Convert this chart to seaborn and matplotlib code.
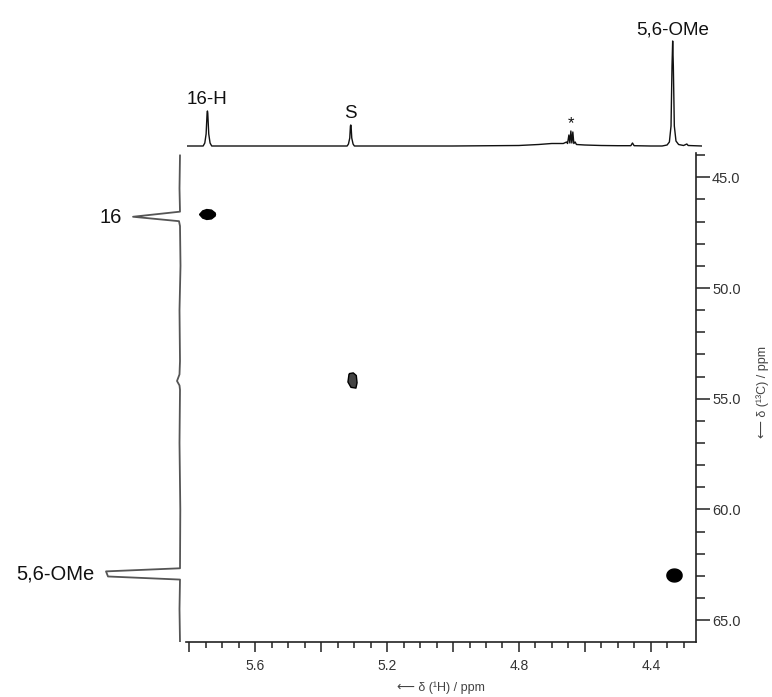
import numpy as np
import matplotlib
matplotlib.use('Agg')
import matplotlib.pyplot as plt
from matplotlib.path import Path
from matplotlib.ticker import MultipleLocator, FuncFormatter
import seaborn as sns
import pandas as pd

# 1H projection (top trace): chemical shift / relative intensity
h_ppm = [5.807, 5.758, 5.753, 5.749, 5.746, 5.745, 5.744, 5.741, 5.737, 5.732,
         5.40, 5.321, 5.317, 5.313, 5.311, 5.310, 5.309, 5.307, 5.303, 5.299,
         5.00, 4.80, 4.74, 4.70, 4.665, 4.655, 4.652, 4.648, 4.645, 4.642, 4.639,
         4.636, 4.633, 4.629, 4.625, 4.60, 4.55, 4.50, 4.460, 4.455, 4.450, 4.40,
         4.365, 4.350, 4.343, 4.338, 4.335, 4.333, 4.331, 4.328, 4.323, 4.315,
         4.300, 4.290, 4.286, 4.244]
h_int = [0, 0, 3, 12, 33, 35, 33, 12, 3, 0,
         0, 0, 2, 8, 20, 21, 20, 8, 2, 0,
         0, 0.5, 1.5, 2.5, 2.5, 4, 2.5, 11, 3, 15, 3,
         14, 2.5, 4, 1.5, 1, 0.5, 0.3, 0.3, 3, 0.3, 0,
         0, 1, 4, 20, 80, 105, 80, 20, 5, 1.5,
         0.5, 2, 0.5, 0]

# 13C projection (left trace)
c_ppm = [44.0, 45.5, 46.55, 46.78, 46.98, 47.2, 49.0, 51.0, 53.3, 53.9, 54.2,
         54.4, 54.6, 57.0, 60.0, 62.66, 62.80, 63.03, 63.17, 64.5, 66.0]
c_int = [0, 0.5, 0, 47, 1, 0, -0.5, 0.5, 0, 0.5, 3,
         0.5, 0, 0.5, -0.3, 0, 74, 72, 0, 0.5, 0]

# cross peaks
cross_names = ['16', 'S', '5,6-OMe']
cross_h = [5.745, 5.305, 4.331]
cross_c = [46.65, 54.15, 62.95]

# labels on the projections
top_labels = ['16-H', 'S', '*', '5,6-OMe']
top_label_ppm = [5.745, 5.310, 4.642, 4.333]
top_label_int = [35, 21, 15, 105]
left_labels = ['16', '5,6-OMe']
left_label_ppm = [46.80, 62.91]
left_label_int = [47, 74]

sns.set_theme(style='white')
plt.rcParams['font.family'] = ['Liberation Sans', 'DejaVu Sans']

W, H = 772, 697
fig = plt.figure(figsize=(W / 100, H / 100), dpi=100)

def box(x0, y0, x1, y1):
    return [x0 / W, 1 - y1 / H, (x1 - x0) / W, (y1 - y0) / H]

ax = fig.add_axes(box(186, 153, 696, 642))
ax_top = fig.add_axes(box(187, 35, 702, 150))
ax_left = fig.add_axes(box(0, 153, 182, 642))

# main 2D area
ax.set_xlim(5.81, 4.263)
ax.set_ylim(65.99, 43.9)
for s in ['top', 'left']:
    ax.spines[s].set_visible(False)
for s in ['right', 'bottom']:
    ax.spines[s].set_color('#222')
    ax.spines[s].set_linewidth(1.2)
ax.yaxis.tick_right()
ax.xaxis.set_major_locator(MultipleLocator(0.2))
ax.xaxis.set_minor_locator(MultipleLocator(0.05))
ax.xaxis.set_major_formatter(FuncFormatter(
    lambda v, p: f'{v:.1f}' if abs(round(v / 0.4) * 0.4 - v) < 1e-6 else ''))
ax.yaxis.set_major_locator(MultipleLocator(5))
ax.yaxis.set_minor_locator(MultipleLocator(1))
ax.yaxis.set_major_formatter(FuncFormatter(lambda v, p: f'{v:.1f}'))
ax.tick_params(axis='x', which='major', bottom=True, direction='out', length=7,
               width=1.1, color='#222', labelsize=10, labelcolor='#333', pad=5)
ax.tick_params(axis='x', which='minor', bottom=True, direction='out', length=4,
               width=1.1, color='#222')
ax.tick_params(axis='y', which='major', right=True, left=False, direction='out',
               length=10, width=1.1, color='#222', labelsize=10.5, labelcolor='#333', pad=1.5)
ax.tick_params(axis='y', which='minor', right=True, left=False, direction='out',
               length=6.5, width=1.1, color='#222')
ax.set_xlabel('')
ax.set_ylabel('')

# cross peak shapes
lens = Path([(-1, 0), (-0.6, 0.45), (-0.1, 0.62), (0.5, 0.55), (0.95, 0.2), (1, 0),
             (0.95, -0.2), (0.5, -0.55), (-0.1, -0.62), (-0.6, -0.45), (-1, 0)])
blob = Path([(-0.45, 0.9), (0.1, 1.0), (0.5, 0.65), (0.6, -0.3), (0.45, -1.0),
             (-0.2, -0.9), (-0.6, -0.2), (-0.45, 0.9)])
t = np.linspace(0, 2 * np.pi, 40)
oval = Path(np.column_stack([np.cos(t), 0.85 * np.sin(t)]))
shapes = {'16': (lens, 132, 'black'), 'S': (blob, 120, '#444'), '5,6-OMe': (oval, 120, 'black')}
for name, xh, yc in zip(cross_names, cross_h, cross_c):
    mk, sz, fc = shapes[name]
    ax.scatter([xh], [yc], marker=mk, s=sz, facecolor=fc, edgecolor='black',
               linewidth=1.0, zorder=3)

# top 1H projection
df_top = pd.DataFrame({'ppm': h_ppm, 'int': h_int})
sns.lineplot(data=df_top, x='ppm', y='int', ax=ax_top, sort=False, estimator=None,
             color='#111', linewidth=1.0)
ax_top.set_xlim(5.807, 4.244)
ax_top.set_ylim(-4, 111)
ax_top.axis('off')
for lab, xp, yp in zip(top_labels, top_label_ppm, top_label_int):
    fs = 12 if lab == '*' else 13.5
    off = 0 if lab == '*' else 2
    ax_top.annotate(lab, xy=(xp, yp), xytext=(0, off), textcoords='offset points',
                    ha='center', va='bottom', fontsize=fs, color='#111')

# left 13C projection
df_left = pd.DataFrame({'ppm': c_ppm, 'int': c_int})
sns.lineplot(data=df_left, x='int', y='ppm', ax=ax_left, sort=False, estimator=None,
             orient='y', color='#555', linewidth=1.3)
ax_left.set_xlim(180, -2)
ax_left.set_ylim(65.99, 43.9)
ax_left.axis('off')
for lab, yp, xi in zip(left_labels, left_label_ppm, left_label_int):
    ax_left.annotate(lab, xy=(xi, yp), xytext=(-8, 0), textcoords='offset points',
                     ha='right', va='center', fontsize=14.5, color='#111')

# axis titles
fig.text(441 / W, 1 - 688 / H, '⟵ δ (¹H) / ppm', ha='center', va='center',
         fontsize=9, color='#444', family=['Liberation Sans', 'DejaVu Sans'])
fig.text(763 / W, 1 - 392 / H, '⟵ δ (¹³C) / ppm', ha='center', va='center',
         rotation=90, fontsize=9, color='#444', family=['Liberation Sans', 'DejaVu Sans'])

fig.savefig('out.png', dpi=100, facecolor='white')
